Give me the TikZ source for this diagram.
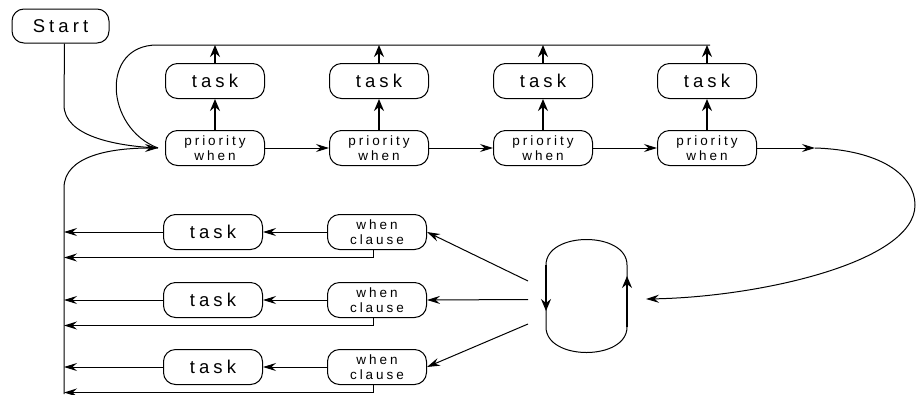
\documentclass[tikz,border=0pt]{standalone}
\usepackage{fontspec}
\setmainfont{Liberation Sans}[LetterSpace=22]
\usepackage{tikz}
\usetikzlibrary{arrows.meta}
\usetikzlibrary{positioning}
\tikzstyle{box_style0}=[draw, rounded corners=12pt, line width=1pt,
anchor=center, align=center, inner sep=0pt, minimum width=99pt, minimum height=35pt]
\tikzstyle{task_box}=[box_style0, font=\fontsize{18.5}{19}\selectfont]
\tikzstyle{cond_box}=[box_style0, font=\fontsize{13.5}{14.5}\selectfont]
\tikzstyle{myarrow}=[-{Stealth[length=13pt, width=8pt, inset=4.5pt]}, line width=1pt]
\tikzstyle{uparrow}=[-{Stealth[length=12pt, width=10pt, inset=4pt]}, line width=1.8pt]
\tikzstyle{line}=[line width=1pt]

\begin{document}
\begin{tikzpicture}[x=1pt, y=-1pt]
		\useasboundingbox (0,0) rectangle (917,394) ;

		\node[task_box, minimum width=97pt, minimum height=34pt] (S) at (60.5,26) {Start} ;

		% top row
		\node[cond_box] (P1) at (215,148) {priority\\when} ;
		\node[cond_box, right=64pt of P1] (P2) {priority\\when} ;
		\draw[myarrow] (P1) -- (P2) ;
		\node[cond_box, right=64pt of P2] (P3) {priority\\when} ;
		\draw[myarrow] (P2) -- (P3) ;
		\node[cond_box, right=64pt of P3] (P4) {priority\\when} ;
		\draw[myarrow] (P3) -- (P4) ;

		\coordinate (top) at (710,45) ;
		\foreach \i in {1,...,4} {
			\node[task_box, above=31pt of P\i] (T\i) {task} ;
			\draw[uparrow] (P\i) -- (T\i) ;
			\draw[uparrow] (T\i) -- (T\i |- top) ;
		}

		% back into the first box
		\coordinate (in1) at ([xshift=-7pt]P1.west) ;
		\coordinate (bus) at (64,394) ;
		\draw[line] ([xshift=4pt]S.south) -- (64,105) .. controls (64,136) and (115,146) .. (in1) ;
		\draw[line] (top) -- (157,45) .. controls (100,45) and (105,128) .. (in1) ;
		\draw[myarrow] (bus) -- (64,188) .. controls (64,156) and (110,148) .. (in1) ;

		% when clauses
		\node[cond_box] (W1) at (377,232) {when\\clause} ;
		\node[cond_box, below=32pt of W1] (W2) {when\\clause} ;
		\node[cond_box, below=31pt of W2] (W3) {when\\clause} ;
		\foreach \i in {1,2,3} {
			\node[task_box, left=64pt of W\i] (R\i) {task} ;
			\draw[myarrow] (W\i) -- (R\i) ;
			\draw[myarrow] (R\i) -- (R\i -| bus) ;
			\draw[myarrow] ([xshift=-4pt]W\i.south) |- ([yshift=-7.5pt]W\i.south -| bus) ;
		}

		% the loop
		\draw[line] (546,265) .. controls (546,231) and (627,231) .. (627,265) -- (627,327)
			.. controls (627,361) and (546,361) .. (546,327) -- cycle ;
		\draw[uparrow, line width=1.4pt] (546,265) -- (546,311) ;
		\draw[uparrow, line width=1.4pt] (627,327) -- (627,276) ;

		\coordinate (src1) at (528,281) ;
		\coordinate (src2) at (528,299.5) ;
		\coordinate (src3) at (528,324) ;
		\draw[myarrow] (src1) -- (W1.east) ;
		\draw[myarrow] (src2) -- (W2.east) ;
		\draw[myarrow] (src3) -- (W3.east) ;

		\coordinate (bend) at (815,148) ;
		\coordinate (loopin) at (646,299) ;
		\draw[myarrow] (P4) -- (bend) ;
		\draw[myarrow] (bend) .. controls (880,150) and (915,175) .. (915,205)
			.. controls (915,262) and (760,297) .. (loopin) ;

	\end{tikzpicture}
\end{document}
